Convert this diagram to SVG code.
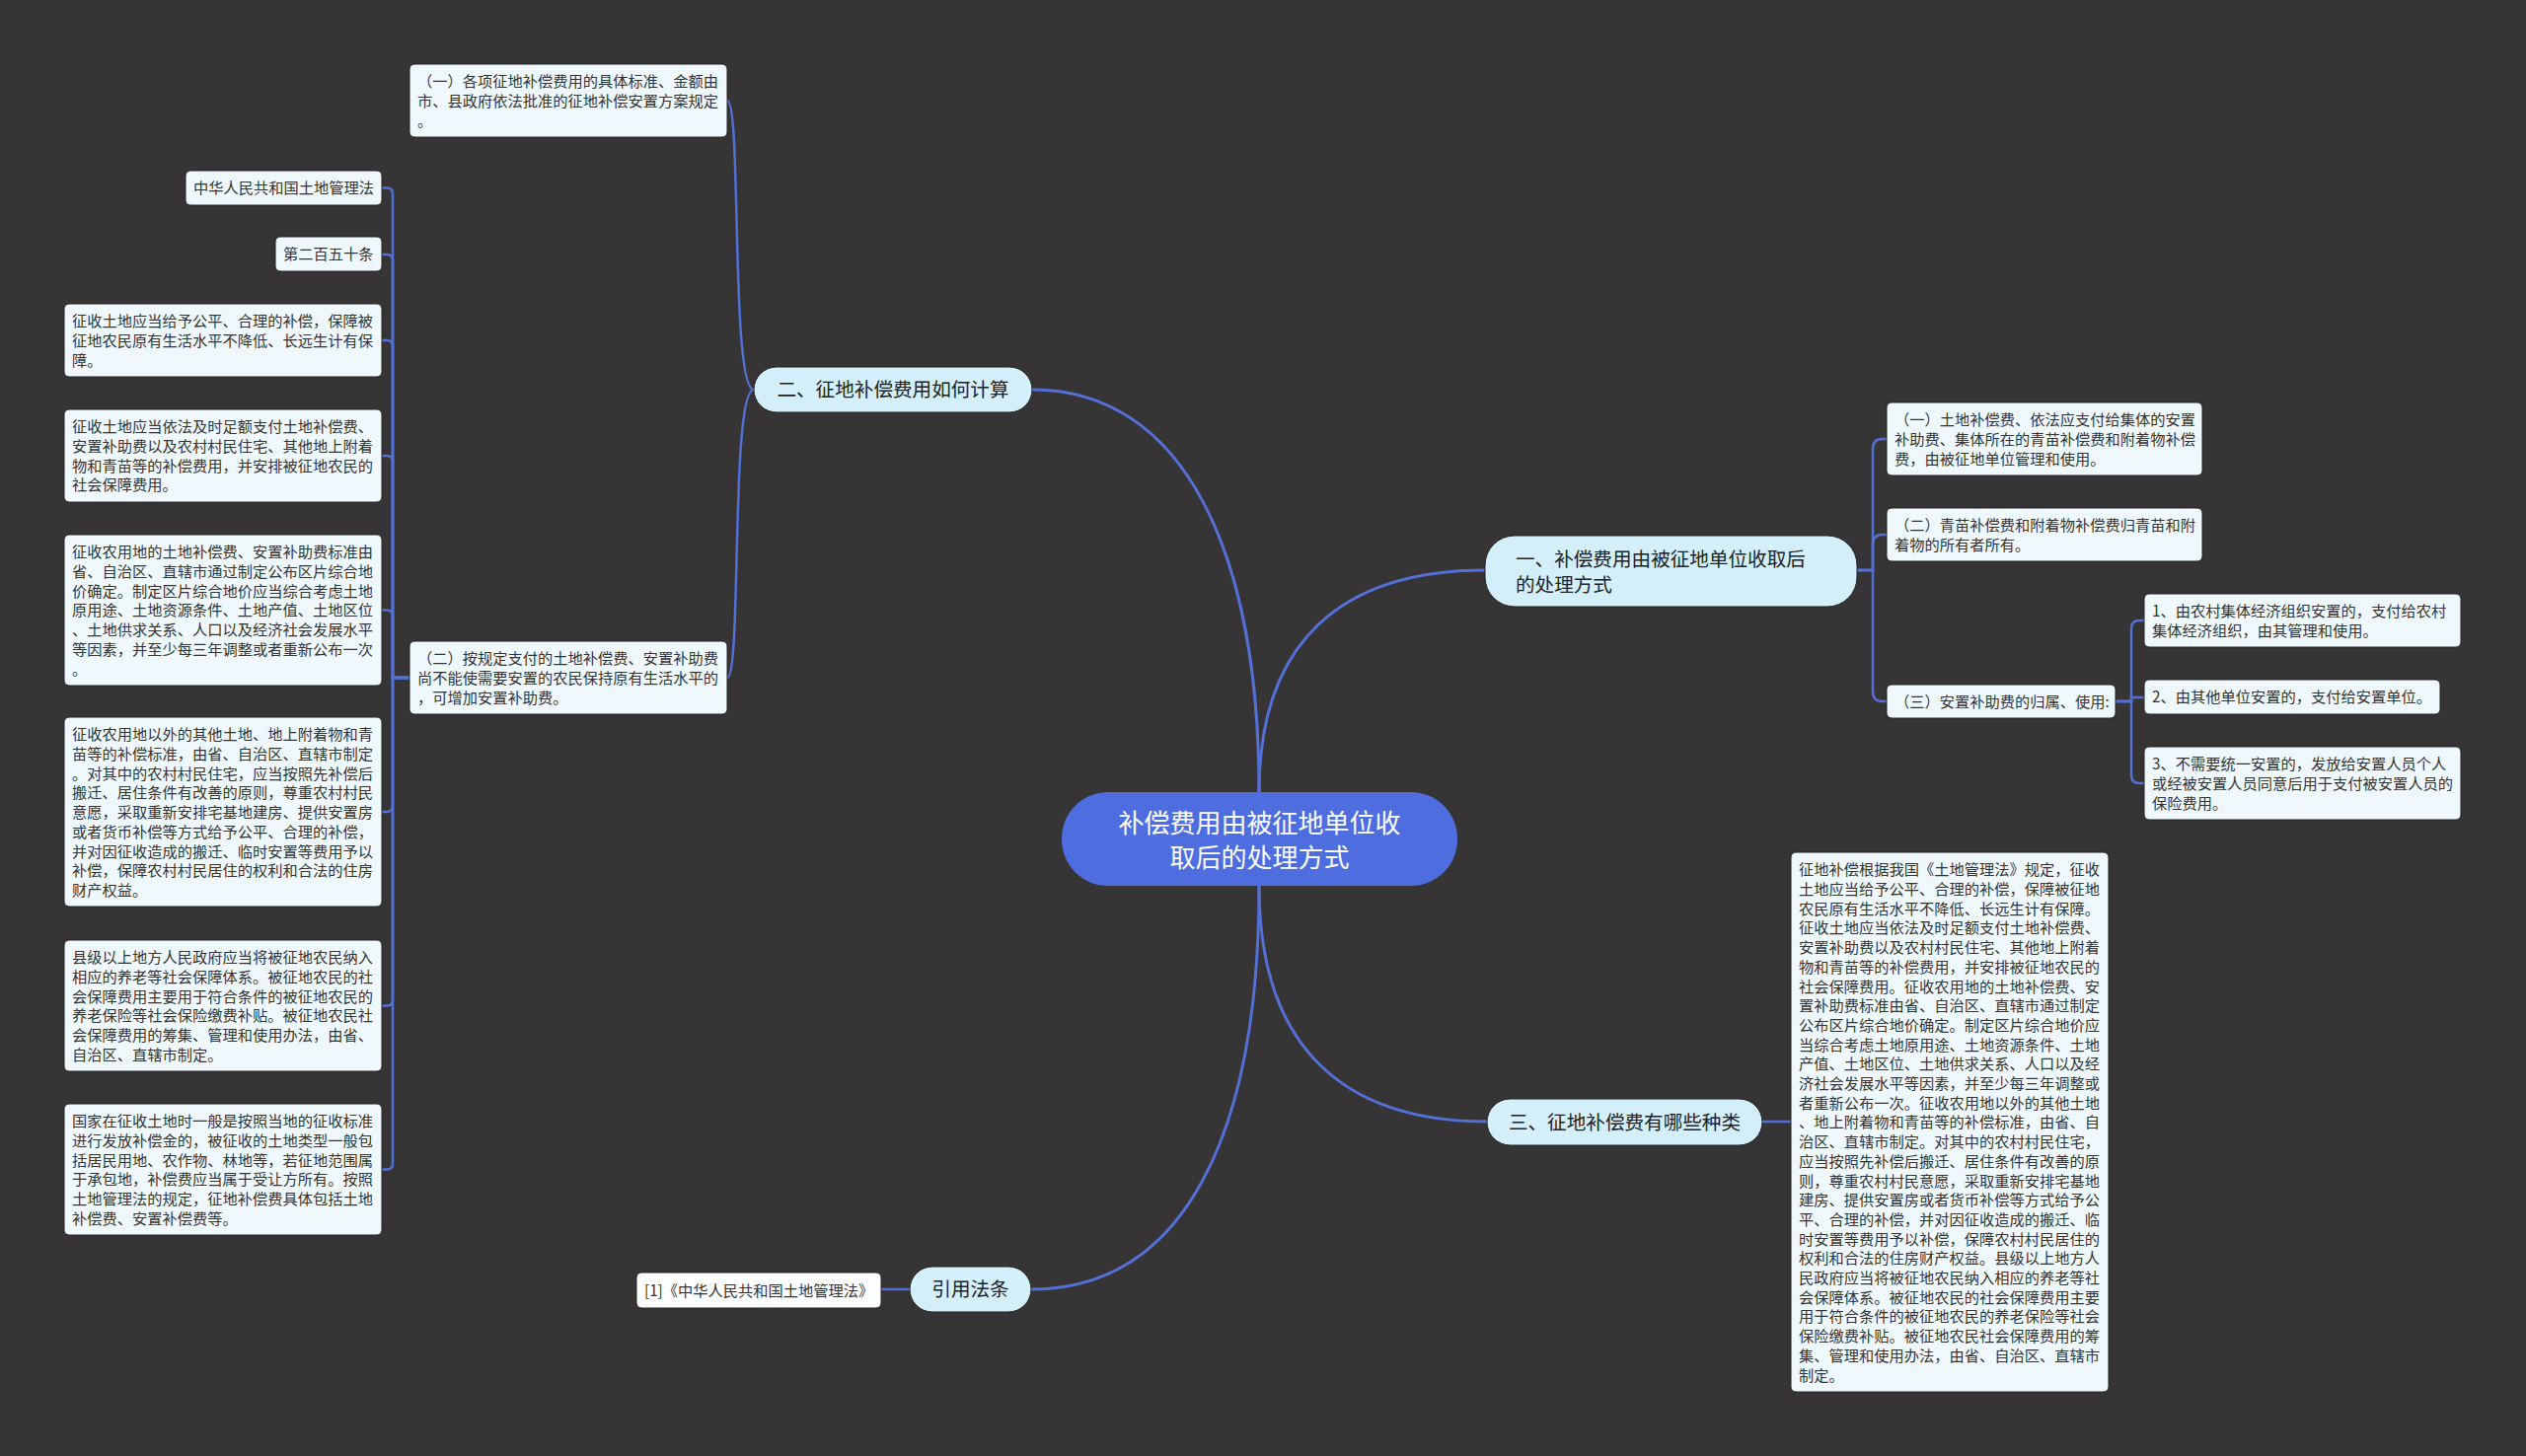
<svg xmlns="http://www.w3.org/2000/svg" width="2560" height="1476" viewBox="0 0 2560 1476">
<style>
.bg{fill:#363435}
.conn path{fill:none;stroke:#5470d6;stroke-width:2.5;stroke-linecap:round}
.conn .main{stroke-width:3}
.leaf rect{fill:#eff9fd;stroke:#222;stroke-width:1}
.leaf text{font-family:"Noto Sans CJK SC","Noto Sans",sans-serif;font-size:15.25px;fill:#333}
.br rect{fill:#d3effa;stroke:#222;stroke-width:1}
.br text{font-family:"Noto Sans CJK SC","Noto Sans",sans-serif;font-size:19.6px;fill:#222}
.ctr rect{fill:#4e6ee0}
.ctr text{font-family:"Noto Sans CJK SC","Noto Sans",sans-serif;font-size:26px;fill:#ffffff}
.mid{text-anchor:middle}
</style>
<rect class="bg" x="0" y="0" width="2560" height="1476"/>

<g id="connectors" class="conn">
  <path class="main" d="M1276,803 C1276,560 1200,395 1046,395"/>
  <path class="main" d="M1276,803 C1276,650 1360,578 1505,578"/>
  <path class="main" d="M1276,898 C1276,1060 1360,1137 1507,1137"/>
  <path class="main" d="M1276,898 C1276,1150 1200,1307 1045,1307"/>
  <path d="M764,395 C740,395 752,102 737,102"/>
  <path d="M764,395 C740,395 752,687 737,687"/>
  <path d="M415,687 H398 V196.5 Q398,190.5 392,190.5 H387"/>
  <path d="M415,687 H398 V264 Q398,258 392,258 H387"/>
  <path d="M415,687 H398 V351 Q398,345 392,345 H387"/>
  <path d="M415,687 H398 V468 Q398,462 392,462 H387"/>
  <path d="M415,687 H398 V624.5 Q398,618.5 392,618.5 H387"/>
  <path d="M415,687 H398 V817 Q398,823 392,823 H387"/>
  <path d="M415,687 H398 V1013.5 Q398,1019.5 392,1019.5 H387"/>
  <path d="M415,687 H398 V1179.5 Q398,1185.5 392,1185.5 H387"/>
  <path d="M1882,578 H1898 V455 Q1898,445 1908,445 H1912"/>
  <path d="M1882,578 H1898 V552 Q1898,542 1908,542 H1912"/>
  <path d="M1882,578 H1898 V701 Q1898,711 1908,711 H1912"/>
  <path d="M2144,711 H2160 V637 Q2160,629 2168,629 H2173"/>
  <path d="M2144,711 H2160 V707 H2173"/>
  <path d="M2144,711 H2160 V786 Q2160,794 2168,794 H2173"/>
  <path d="M1786,1137 H1815"/>
  <path d="M922,1307 H893"/>
</g>

<g id="center" class="ctr">
  <rect x="1076" y="803" width="401" height="95" rx="47"/>
  <text class="mid"><tspan x="1276.5" y="844.4">补偿费用由被征地单位收</tspan><tspan x="1276.5" y="879.4">取后的处理方式</tspan></text>
</g>

<g id="branch1" class="br">
  <rect x="1505" y="543" width="377" height="72" rx="30"/>
  <text><tspan x="1536" y="574">一、补偿费用由被征地单位收取后</tspan><tspan x="1536" y="600">的处理方式</tspan></text>
</g>
<g id="branch2" class="br">
  <rect x="764" y="372" width="282" height="46" rx="23"/>
  <text class="mid" x="905" y="402">二、征地补偿费用如何计算</text>
</g>
<g id="branch3" class="br">
  <rect x="1507" y="1114" width="279" height="47" rx="23.5"/>
  <text class="mid" x="1646.5" y="1144.5">三、征地补偿费有哪些种类</text>
</g>
<g id="branch4" class="br">
  <rect x="922" y="1284" width="123" height="46" rx="23"/>
  <text class="mid" x="983.5" y="1314">引用法条</text>
</g>

<g id="ref1" class="leaf">
  <rect x="645" y="1290" width="248" height="36" rx="5" style="fill:#fdfeff"/>
  <text x="653" y="1313.5">[1]《中华人民共和国土地管理法》</text>
</g>

<g id="b2c1" class="leaf">
  <rect x="415" y="65" width="322" height="74" rx="5"/>
  <text><tspan x="423" y="88.3">（一）各项征地补偿费用的具体标准、金额由</tspan><tspan x="423" y="108">市、县政府依法批准的征地补偿安置方案规定</tspan><tspan x="423" y="127.7">。</tspan></text>
</g>
<g id="b2c2" class="leaf">
  <rect x="415" y="650" width="322" height="74" rx="5"/>
  <text><tspan x="423" y="673.3">（二）按规定支付的土地补偿费、安置补助费</tspan><tspan x="423" y="693">尚不能使需要安置的农民保持原有生活水平的</tspan><tspan x="423" y="712.7">，可增加安置补助费。</tspan></text>
</g>

<g id="l1" class="leaf">
  <rect x="188" y="173" width="199" height="35" rx="5"/>
  <text x="196" y="196.3">中华人民共和国土地管理法</text>
</g>
<g id="l2" class="leaf">
  <rect x="279" y="240" width="108" height="35" rx="5"/>
  <text x="287" y="263.3">第二百五十条</text>
</g>
<g id="l3" class="leaf">
  <rect x="65" y="308" width="322" height="74" rx="5"/>
  <text><tspan x="73" y="331.3">征收土地应当给予公平、合理的补偿，保障被</tspan><tspan x="73" y="351">征地农民原有生活水平不降低、长远生计有保</tspan><tspan x="73" y="370.7">障。</tspan></text>
</g>
<g id="l4" class="leaf">
  <rect x="65" y="415" width="322" height="94" rx="5"/>
  <text><tspan x="73" y="438.3">征收土地应当依法及时足额支付土地补偿费、</tspan><tspan x="73" y="458">安置补助费以及农村村民住宅、其他地上附着</tspan><tspan x="73" y="477.7">物和青苗等的补偿费用，并安排被征地农民的</tspan><tspan x="73" y="497.4">社会保障费用。</tspan></text>
</g>
<g id="l5" class="leaf">
  <rect x="65" y="542" width="322" height="153" rx="5"/>
  <text><tspan x="73" y="565.3">征收农用地的土地补偿费、安置补助费标准由</tspan><tspan x="73" y="585">省、自治区、直辖市通过制定公布区片综合地</tspan><tspan x="73" y="604.7">价确定。制定区片综合地价应当综合考虑土地</tspan><tspan x="73" y="624.4">原用途、土地资源条件、土地产值、土地区位</tspan><tspan x="73" y="644.1">、土地供求关系、人口以及经济社会发展水平</tspan><tspan x="73" y="663.8">等因素，并至少每三年调整或者重新公布一次</tspan><tspan x="73" y="683.5">。</tspan></text>
</g>
<g id="l6" class="leaf">
  <rect x="65" y="727" width="322" height="192" rx="5"/>
  <text><tspan x="73" y="750.3">征收农用地以外的其他土地、地上附着物和青</tspan><tspan x="73" y="770">苗等的补偿标准，由省、自治区、直辖市制定</tspan><tspan x="73" y="789.7">。对其中的农村村民住宅，应当按照先补偿后</tspan><tspan x="73" y="809.4">搬迁、居住条件有改善的原则，尊重农村村民</tspan><tspan x="73" y="829.1">意愿，采取重新安排宅基地建房、提供安置房</tspan><tspan x="73" y="848.8">或者货币补偿等方式给予公平、合理的补偿，</tspan><tspan x="73" y="868.5">并对因征收造成的搬迁、临时安置等费用予以</tspan><tspan x="73" y="888.2">补偿，保障农村村民居住的权利和合法的住房</tspan><tspan x="73" y="907.9">财产权益。</tspan></text>
</g>
<g id="l7" class="leaf">
  <rect x="65" y="953" width="322" height="133" rx="5"/>
  <text><tspan x="73" y="976.3">县级以上地方人民政府应当将被征地农民纳入</tspan><tspan x="73" y="996">相应的养老等社会保障体系。被征地农民的社</tspan><tspan x="73" y="1015.7">会保障费用主要用于符合条件的被征地农民的</tspan><tspan x="73" y="1035.4">养老保险等社会保险缴费补贴。被征地农民社</tspan><tspan x="73" y="1055.1">会保障费用的筹集、管理和使用办法，由省、</tspan><tspan x="73" y="1074.8">自治区、直辖市制定。</tspan></text>
</g>
<g id="l8" class="leaf">
  <rect x="65" y="1119" width="322" height="133" rx="5"/>
  <text><tspan x="73" y="1142.3">国家在征收土地时一般是按照当地的征收标准</tspan><tspan x="73" y="1162">进行发放补偿金的，被征收的土地类型一般包</tspan><tspan x="73" y="1181.7">括居民用地、农作物、林地等，若征地范围属</tspan><tspan x="73" y="1201.4">于承包地，补偿费应当属于受让方所有。按照</tspan><tspan x="73" y="1221.1">土地管理法的规定，征地补偿费具体包括土地</tspan><tspan x="73" y="1240.8">补偿费、安置补偿费等。</tspan></text>
</g>

<g id="r1" class="leaf">
  <rect x="1912" y="408" width="320" height="74" rx="5"/>
  <text><tspan x="1920" y="431.3">（一）土地补偿费、依法应支付给集体的安置</tspan><tspan x="1920" y="451">补助费、集体所在的青苗补偿费和附着物补偿</tspan><tspan x="1920" y="470.7">费，由被征地单位管理和使用。</tspan></text>
</g>
<g id="r2" class="leaf">
  <rect x="1912" y="515" width="320" height="54" rx="5"/>
  <text><tspan x="1920" y="538.3">（二）青苗补偿费和附着物补偿费归青苗和附</tspan><tspan x="1920" y="558">着物的所有者所有。</tspan></text>
</g>
<g id="r3" class="leaf">
  <rect x="1912" y="694" width="232" height="34" rx="5"/>
  <text x="1920" y="717.3">（三）安置补助费的归属、使用:</text>
</g>
<g id="r3a" class="leaf">
  <rect x="2173" y="602" width="321" height="54" rx="5"/>
  <text><tspan x="2181" y="625.3">1、由农村集体经济组织安置的，支付给农村</tspan><tspan x="2181" y="645">集体经济组织，由其管理和使用。</tspan></text>
</g>
<g id="r3b" class="leaf">
  <rect x="2173" y="689" width="300" height="35" rx="5"/>
  <text x="2181" y="712.3">2、由其他单位安置的，支付给安置单位。</text>
</g>
<g id="r3c" class="leaf">
  <rect x="2173" y="757" width="321" height="74" rx="5"/>
  <text><tspan x="2181" y="780.3">3、不需要统一安置的，发放给安置人员个人</tspan><tspan x="2181" y="800">或经被安置人员同意后用于支付被安置人员的</tspan><tspan x="2181" y="819.7">保险费用。</tspan></text>
</g>

<g id="b3c1" class="leaf">
  <rect x="1815" y="864" width="322" height="547" rx="5"/>
  <text>
    <tspan x="1823" y="887.3">征地补偿根据我国《土地管理法》规定，征收</tspan>
    <tspan x="1823" y="907">土地应当给予公平、合理的补偿，保障被征地</tspan>
    <tspan x="1823" y="926.7">农民原有生活水平不降低、长远生计有保障。</tspan>
    <tspan x="1823" y="946.4">征收土地应当依法及时足额支付土地补偿费、</tspan>
    <tspan x="1823" y="966.1">安置补助费以及农村村民住宅、其他地上附着</tspan>
    <tspan x="1823" y="985.8">物和青苗等的补偿费用，并安排被征地农民的</tspan>
    <tspan x="1823" y="1005.5">社会保障费用。征收农用地的土地补偿费、安</tspan>
    <tspan x="1823" y="1025.2">置补助费标准由省、自治区、直辖市通过制定</tspan>
    <tspan x="1823" y="1044.9">公布区片综合地价确定。制定区片综合地价应</tspan>
    <tspan x="1823" y="1064.6">当综合考虑土地原用途、土地资源条件、土地</tspan>
    <tspan x="1823" y="1084.3">产值、土地区位、土地供求关系、人口以及经</tspan>
    <tspan x="1823" y="1104">济社会发展水平等因素，并至少每三年调整或</tspan>
    <tspan x="1823" y="1123.7">者重新公布一次。征收农用地以外的其他土地</tspan>
    <tspan x="1823" y="1143.4">、地上附着物和青苗等的补偿标准，由省、自</tspan>
    <tspan x="1823" y="1163.1">治区、直辖市制定。对其中的农村村民住宅，</tspan>
    <tspan x="1823" y="1182.8">应当按照先补偿后搬迁、居住条件有改善的原</tspan>
    <tspan x="1823" y="1202.5">则，尊重农村村民意愿，采取重新安排宅基地</tspan>
    <tspan x="1823" y="1222.2">建房、提供安置房或者货币补偿等方式给予公</tspan>
    <tspan x="1823" y="1241.9">平、合理的补偿，并对因征收造成的搬迁、临</tspan>
    <tspan x="1823" y="1261.6">时安置等费用予以补偿，保障农村村民居住的</tspan>
    <tspan x="1823" y="1281.3">权利和合法的住房财产权益。县级以上地方人</tspan>
    <tspan x="1823" y="1301">民政府应当将被征地农民纳入相应的养老等社</tspan>
    <tspan x="1823" y="1320.7">会保障体系。被征地农民的社会保障费用主要</tspan>
    <tspan x="1823" y="1340.4">用于符合条件的被征地农民的养老保险等社会</tspan>
    <tspan x="1823" y="1360.1">保险缴费补贴。被征地农民社会保障费用的筹</tspan>
    <tspan x="1823" y="1379.8">集、管理和使用办法，由省、自治区、直辖市</tspan>
    <tspan x="1823" y="1399.5">制定。</tspan>
  </text>
</g>
</svg>
